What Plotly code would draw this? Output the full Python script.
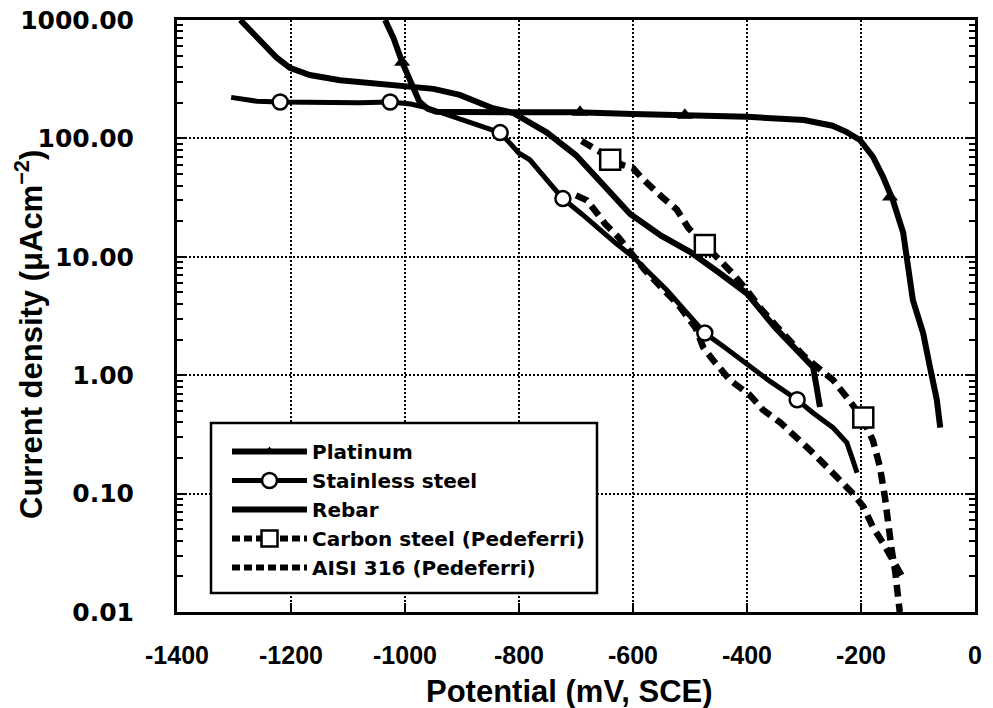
import plotly.graph_objects as go

# ---------------- data ----------------
PT_X = [-1035, -1020, -1005, -990, -975, -960, -945, -900, -800, -700, -600, -500, -400,
        -300, -250, -225, -202, -179, -161, -144, -126, -109, -91, -79, -67, -61]
PT_Y = [1000, 700, 440, 300, 205, 178, 168, 167, 167, 166, 161, 157, 152,
        143, 128, 113, 97, 70, 47, 30, 16, 4.3, 2.27, 1.17, 0.62, 0.36]
PT_MX = [-1005, -693, -509, -149]
PT_MY = [440, 166, 157, 32]

SS_X = [-1305, -1260, -1219, -1150, -1080, -1026, -990, -961, -930, -904, -870, -833, -800,
        -781, -750, -723, -690, -658, -630, -600, -570, -540, -505, -474, -440, -400, -360,
        -312, -284, -249, -225, -214, -207]
SS_Y = [222, 206, 203, 200, 200, 203, 195, 181, 161, 146, 127, 112, 75,
        66, 44, 31, 23, 16.8, 13, 10, 7.2, 5.2, 3.35, 2.27, 1.73, 1.24, 0.89,
        0.62, 0.48, 0.36, 0.27, 0.19, 0.15]
SS_MX = [-1219, -1026, -833, -723, -474, -312]
SS_MY = [203, 203, 112, 31, 2.27, 0.62]

RB_X = [-1289, -1270, -1249, -1225, -1202, -1167, -1114, -1060, -1009, -950, -904, -846,
        -810, -751, -700, -650, -605, -550, -500, -450, -400, -350, -300, -284, -278, -272]
RB_Y = [1000, 800, 640, 480, 394, 343, 310, 292, 282, 262, 233, 180,
        164, 112, 72, 39, 23, 15, 11, 7.4, 4.9, 2.5, 1.4, 1.17, 0.8, 0.54]

CS_X = [-690, -660, -640, -620, -600, -582, -549, -523, -503, -474, -451, -426, -400, -377,
        -342, -300, -270, -249, -225, -198, -179, -167, -158, -152, -146, -140, -135, -132]
CS_Y = [95, 78, 66, 60, 56, 45, 32, 25, 17.5, 12.6, 9.4, 7.3, 5.2, 3.7,
        2.4, 1.45, 1.1, 0.91, 0.65, 0.44, 0.28, 0.17, 0.093, 0.052, 0.033, 0.022, 0.015, 0.01]
CS_MX = [-640, -474, -196]
CS_MY = [66, 12.6, 0.44]

AI_X = [-700, -681, -662, -649, -626, -605, -580, -550, -520, -490, -477, -460, -430, -395,
        -372, -342, -312, -284, -260, -232, -214, -196, -179, -161, -146, -128]
AI_Y = [33, 30, 23, 19, 14.7, 10.8, 7.8, 5.5, 3.9, 2.5, 1.73, 1.35, 0.91, 0.68,
        0.51, 0.40, 0.30, 0.22, 0.168, 0.123, 0.10, 0.078, 0.052, 0.038, 0.028, 0.02]

NAMES = ["Platinum", "Stainless steel", "Rebar", "Carbon steel (Pedeferri)", "AISI 316 (Pedeferri)"]
X_TICKS = [-1400, -1200, -1000, -800, -600, -400, -200, 0]
Y_TICKS = [0.01, 0.1, 1, 10, 100, 1000]
Y_TICK_TEXT = ["0.01", "0.10", "1.00", "10.00", "100.00", "1000.00"]

# ---------------- styles ----------------
BLACK = "black"
DASH = "12px,7px"
FONT = "Liberation Sans, Arial, sans-serif"
WIDE = "DejaVu Sans, sans-serif"

W, H = 993, 708
ML, MR, MT, MB = 177, 18, 20, 96
PW, PH = W - ML - MR, H - MT - MB


def px_x(p):
    return (p - ML) / PW


def px_y(p):
    return (H - MB - p) / PH


fig = go.Figure()

# curves (lines)
fig.add_trace(go.Scatter(x=RB_X, y=RB_Y, mode="lines", line=dict(color=BLACK, width=6),
                         showlegend=False, hoverinfo="skip"))
fig.add_trace(go.Scatter(x=PT_X, y=PT_Y, mode="lines", line=dict(color=BLACK, width=6),
                         showlegend=False, hoverinfo="skip"))
fig.add_trace(go.Scatter(x=SS_X, y=SS_Y, mode="lines", line=dict(color=BLACK, width=5),
                         showlegend=False, hoverinfo="skip"))
fig.add_trace(go.Scatter(x=CS_X, y=CS_Y, mode="lines", line=dict(color=BLACK, width=6.5, dash=DASH),
                         showlegend=False, hoverinfo="skip"))
fig.add_trace(go.Scatter(x=AI_X, y=AI_Y, mode="lines", line=dict(color=BLACK, width=6.5, dash=DASH),
                         showlegend=False, hoverinfo="skip"))

# markers
fig.add_trace(go.Scatter(x=PT_MX, y=PT_MY, mode="markers",
                         marker=dict(symbol="triangle-up", size=14, color=BLACK),
                         showlegend=False, hoverinfo="skip"))
fig.add_trace(go.Scatter(x=SS_MX, y=SS_MY, mode="markers",
                         marker=dict(symbol="circle", size=15, color="white",
                                     line=dict(color=BLACK, width=2.5)),
                         showlegend=False, hoverinfo="skip"))
fig.add_trace(go.Scatter(x=CS_MX, y=CS_MY, mode="markers",
                         marker=dict(symbol="square", size=20, color="white",
                                     line=dict(color=BLACK, width=2.5)),
                         showlegend=False, hoverinfo="skip"))

# legend entries
fig.add_trace(go.Scatter(x=[None], y=[None], mode="lines+markers", name=NAMES[0],
                         line=dict(color=BLACK, width=6),
                         marker=dict(symbol="triangle-up", size=10, color=BLACK)))
fig.add_trace(go.Scatter(x=[None], y=[None], mode="lines+markers", name=NAMES[1],
                         line=dict(color=BLACK, width=5),
                         marker=dict(symbol="circle", size=15, color="white",
                                     line=dict(color=BLACK, width=2.5))))
fig.add_trace(go.Scatter(x=[None], y=[None], mode="lines", name=NAMES[2],
                         line=dict(color=BLACK, width=6)))
fig.add_trace(go.Scatter(x=[None], y=[None], mode="lines+markers", name=NAMES[3],
                         line=dict(color=BLACK, width=6, dash="8px,4px"),
                         marker=dict(symbol="square", size=18, color="white",
                                     line=dict(color=BLACK, width=2.5))))
fig.add_trace(go.Scatter(x=[None], y=[None], mode="lines", name=NAMES[4],
                         line=dict(color=BLACK, width=6, dash="8px,4px")))

minor_vals = [d * k for d in [0.01, 0.1, 1, 10, 100] for k in range(2, 10)]

fig.update_layout(
    width=W, height=H,
    margin=dict(l=ML, r=MR, t=MT, b=MB, autoexpand=False),
    paper_bgcolor="white", plot_bgcolor="white",
    font=dict(family=FONT, color=BLACK),
    xaxis=dict(
        range=[-1400, 0], tickmode="array", tickvals=X_TICKS,
        ticktext=[str(v) for v in X_TICKS],
        showline=True, linewidth=3, linecolor=BLACK, mirror=True,
        ticks="inside", ticklen=9, tickwidth=2, tickcolor=BLACK,
        showgrid=True, gridcolor=BLACK, gridwidth=2, griddash="2px,2px",
        zeroline=False, automargin=False,
        tickfont=dict(family=FONT, size=25, weight="bold", color=BLACK),
        ticklabelstandoff=19,
    ),
    yaxis=dict(
        type="log", range=[-2, 3], tickmode="array", tickvals=Y_TICKS, ticktext=Y_TICK_TEXT,
        showline=True, linewidth=3, linecolor=BLACK, mirror="allticks",
        ticks="inside", ticklen=10, tickwidth=2, tickcolor=BLACK,
        minor=dict(tickmode="array", tickvals=minor_vals, ticks="inside", ticklen=6,
                   tickwidth=2, tickcolor=BLACK, showgrid=False),
        showgrid=True, gridcolor=BLACK, gridwidth=2, griddash="2px,2px",
        zeroline=False, automargin=False,
        tickfont=dict(family=WIDE, size=25, weight="bold", color=BLACK),
        ticklabelstandoff=35,
    ),
    legend=dict(
        x=px_x(227), y=px_y(432), xanchor="left", yanchor="top",
        bgcolor="rgba(0,0,0,0)", borderwidth=0,
        font=dict(family=WIDE, size=20, weight="bold", color=BLACK),
        itemwidth=75, tracegroupgap=0,
    ),
    shapes=[
        dict(type="rect", xref="paper", yref="paper",
             x0=px_x(211), x1=px_x(597), y0=px_y(593), y1=px_y(423),
             fillcolor="white", line=dict(color=BLACK, width=2.5), layer="above"),
    ],
    annotations=[
        dict(text="Potential (mV, SCE)", xref="paper", yref="paper", x=px_x(569), y=px_y(691),
             xanchor="center", yanchor="middle", showarrow=False,
             font=dict(family=FONT, size=31, weight="bold", color=BLACK)),
        dict(text="Current density (μAcm<sup>−2</sup>)", xref="paper", yref="paper",
             x=px_x(29), y=px_y(335), xanchor="center", yanchor="middle", textangle=-90,
             showarrow=False,
             font=dict(family=FONT, size=31, weight="bold", color=BLACK)),
    ],
)

fig.write_html(
    "out.html",
    config={"displayModeBar": False},
    post_script="document.body.style.margin='0px';document.body.style.overflow='hidden';",
)
